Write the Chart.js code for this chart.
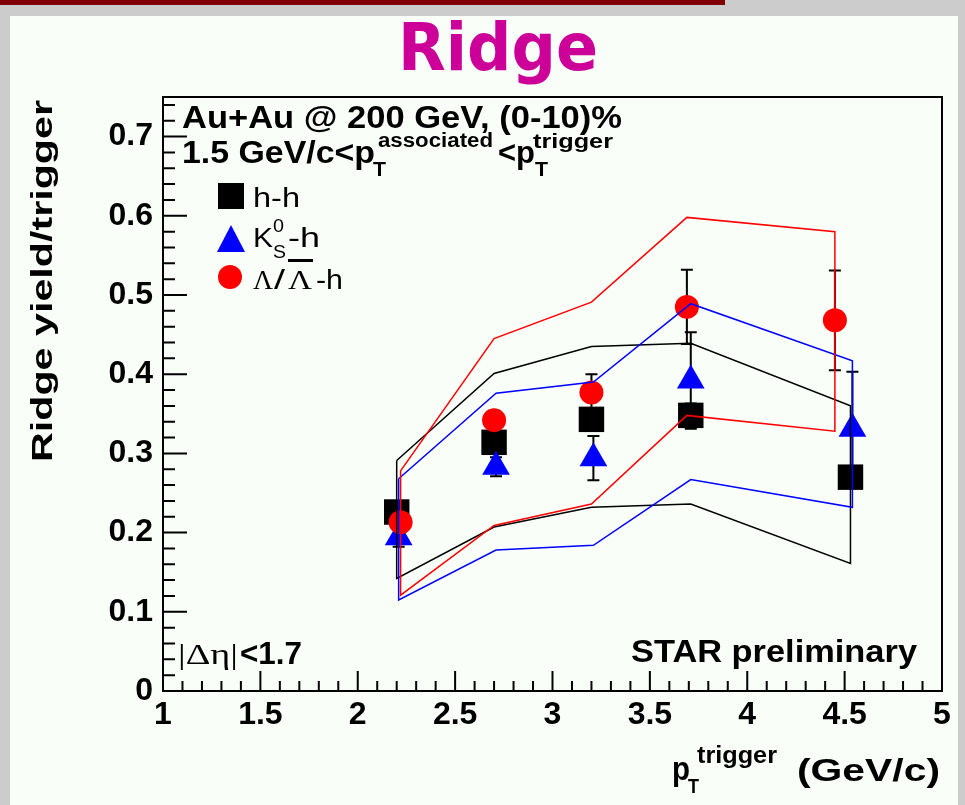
<!DOCTYPE html>
<html>
<head>
<meta charset="utf-8">
<script src="https://cdn.jsdelivr.net/npm/chart.js@4.4.1/dist/chart.umd.min.js"></script>
<style>
  html, body { margin: 0; padding: 0; background: #cccccc; }
  body { width: 965px; height: 805px; position: relative; overflow: hidden; }
  #topbar { position: absolute; left: 0; top: 0; width: 725px; height: 5px; background: #800000; }
  #panel { position: absolute; left: 10px; top: 16px; width: 948px; height: 789px; background: #f9fef9; }
  #chart { position: absolute; left: 0; top: 0; }
</style>
</head>
<body>
<div id="topbar"></div>
<div id="panel"></div>
<canvas id="chart" width="965" height="805"></canvas>
<script>
// axis ticks
const xTicks = [1, 1.5, 2, 2.5, 3, 3.5, 4, 4.5, 5];
const yTicks = [0, 0.1, 0.2, 0.3, 0.4, 0.5, 0.6, 0.7];

// h-h
const hhX = [2.2, 2.7, 3.2, 3.71, 4.53];
const hhY = [0.226, 0.314, 0.343, 0.348, 0.270];
const hhErr = [0.010, 0.010, 0.012, 0.015, 0.012];
const hhSysHi = [0.291, 0.401, 0.435, 0.439, 0.360];
const hhSysLo = [0.142, 0.207, 0.232, 0.236, 0.161];

// K0S-h
const k0X = [2.21, 2.71, 3.21, 3.71, 4.54];
const k0Y = [0.194, 0.283, 0.294, 0.392, 0.331];
const k0Err = [0.012, 0.012, 0.028, 0.061, 0.072];
const k0SysHi = [0.268, 0.376, 0.390, 0.489, 0.417];
const k0SysLo = [0.115, 0.178, 0.184, 0.267, 0.232];

// Lambda-h
const lamX = [2.22, 2.7, 3.2, 3.69, 4.45];
const lamY = [0.213, 0.342, 0.377, 0.485, 0.468];
const lamErr = [0.012, 0.012, 0.023, 0.047, 0.063];
const lamSysHi = [0.278, 0.445, 0.491, 0.598, 0.580];
const lamSysLo = [0.121, 0.209, 0.236, 0.348, 0.328];

const SANS = '"Liberation Sans", Arial, sans-serif';
const SERIF = '"Liberation Serif", "Times New Roman", serif';

function pts(xs, ys) {
  return xs.map((v, i) => ({ x: v, y: ys[i] }));
}

// closed outline of the systematic band
function band(xs, hi, lo) {
  const out = pts(xs, hi);
  for (let i = xs.length - 1; i >= 0; i--) out.push({ x: xs[i], y: lo[i] });
  out.push({ x: xs[0], y: hi[0] });
  return out;
}

function put(ctx, s, x, y, font, w) {
  ctx.save();
  ctx.font = font;
  const m = ctx.measureText(s).width;
  ctx.translate(x, y);
  if (w) ctx.scale(w / m, 1);
  ctx.fillText(s, 0, 0);
  ctx.restore();
}

// stat. error bars, drawn under markers and bands
const errorBars = {
  id: 'errorBars',
  beforeDatasetsDraw(chart) {
    const { ctx, scales: { x, y } } = chart;
    ctx.save();
    ctx.strokeStyle = '#000';
    ctx.lineWidth = 2;
    [[hhX, hhY, hhErr], [k0X, k0Y, k0Err], [lamX, lamY, lamErr]].forEach(([xs, ys, es]) => {
      xs.forEach((xv, i) => {
        const px = x.getPixelForValue(xv);
        const top = y.getPixelForValue(ys[i] + es[i]);
        const bot = y.getPixelForValue(ys[i] - es[i]);
        ctx.beginPath();
        ctx.moveTo(px, top); ctx.lineTo(px, bot);
        ctx.moveTo(px - 6, top); ctx.lineTo(px + 6, top);
        ctx.moveTo(px - 6, bot); ctx.lineTo(px + 6, bot);
        ctx.stroke();
      });
    });
    ctx.restore();
  }
};

// ROOT style frame with inside ticks
const frame = {
  id: 'frame',
  afterDraw(chart) {
    const { ctx, chartArea: a, scales: { x, y } } = chart;
    ctx.save();
    ctx.strokeStyle = '#000';
    ctx.lineWidth = 2;
    ctx.strokeRect(a.left, a.top, a.right - a.left, a.bottom - a.top);
    ctx.beginPath();
    for (let i = 0; i <= 40; i++) {
      const px = x.getPixelForValue(1 + i * 0.1);
      const len = i % 5 === 0 ? 20 : 10;
      ctx.moveTo(px, a.bottom); ctx.lineTo(px, a.bottom - len);
    }
    for (let i = 0; i <= 37; i++) {
      const py = y.getPixelForValue(i * 0.02);
      const len = i % 5 === 0 ? 24 : 12;
      ctx.moveTo(a.left, py); ctx.lineTo(a.left + len, py);
    }
    ctx.stroke();
    ctx.restore();
  }
};

// texts with sub/superscripts, legend
const labels = {
  id: 'labels',
  afterDraw(chart) {
    const ctx = chart.ctx;
    ctx.save();
    ctx.textAlign = 'left';
    ctx.textBaseline = 'alphabetic';

    ctx.fillStyle = '#cc0099';
    put(ctx, 'Ridge', 398, 70, 'bold 66px "DejaVu Sans"', 200);

    ctx.fillStyle = '#000';
    put(ctx, 'Au+Au @ 200 GeV, (0-10)%', 182, 128, 'bold 31px ' + SANS, 440);
    put(ctx, '1.5 GeV/c<p', 182, 163, 'bold 31px ' + SANS, 193);
    put(ctx, 'T', 373, 176, 'bold 20px ' + SANS, 13);
    put(ctx, 'associated', 378, 147, 'bold 20px ' + SANS, 115);
    put(ctx, '<p', 498, 163, 'bold 31px ' + SANS, 37);
    put(ctx, 'T', 535, 176, 'bold 20px ' + SANS, 13);
    put(ctx, 'trigger', 533, 148, 'bold 20px ' + SANS, 80);

    // legend
    ctx.fillStyle = '#000';
    ctx.fillRect(218, 183, 26, 26);
    put(ctx, 'h-h', 253, 207, '27px ' + SANS, 47);

    ctx.fillStyle = '#0000ff';
    ctx.beginPath();
    ctx.moveTo(231, 225); ctx.lineTo(245, 252); ctx.lineTo(217, 252); ctx.closePath();
    ctx.fill();
    ctx.fillStyle = '#000';
    put(ctx, 'K', 253, 247, '27px ' + SANS, 20);
    put(ctx, '0', 273, 232, '18px ' + SANS, 11);
    put(ctx, 'S', 273, 258, '18px ' + SANS, 13);
    put(ctx, '-h', 288, 247, '27px ' + SANS, 32);

    ctx.fillStyle = '#ff0000';
    ctx.beginPath();
    ctx.arc(230, 277, 12, 0, Math.PI * 2);
    ctx.fill();
    ctx.fillStyle = '#000';
    put(ctx, 'Λ', 253, 289, '28px ' + SERIF, 20);
    put(ctx, '/', 274, 289, '27px ' + SANS, 11);
    put(ctx, 'Λ', 288, 289, '28px ' + SERIF, 24);
    ctx.fillRect(288, 259, 25, 3);
    put(ctx, '-h', 316, 289, '27px ' + SANS, 27);

    put(ctx, '|Δη|', 178, 664, '30px ' + SERIF, 60);
    put(ctx, '<1.7', 240, 664, 'bold 31px ' + SANS, 62);
    put(ctx, 'STAR preliminary', 631, 662, 'bold 31px ' + SANS, 286);

    // x title
    put(ctx, 'p', 672, 780, 'bold 34px ' + SANS, 18);
    put(ctx, 'T', 688, 793, 'bold 20px ' + SANS, 11);
    put(ctx, 'trigger', 697, 763, 'bold 24px ' + SANS, 80);
    put(ctx, '(GeV/c)', 797, 781, 'bold 32px ' + SANS, 143);

    // y title
    ctx.save();
    ctx.translate(52, 462);
    ctx.rotate(-Math.PI / 2);
    put(ctx, 'Ridge yield/trigger', 0, 0, 'bold 30px ' + SANS, 362);
    ctx.restore();

    ctx.restore();
  }
};

const tickFont = { family: SANS, size: 32, weight: 'bold' };

new Chart(document.getElementById('chart').getContext('2d'), {
  type: 'scatter',
  data: {
    datasets: [
      { data: band(lamX, lamSysHi, lamSysLo), showLine: true, borderColor: '#ff0000', borderWidth: 1.5, pointRadius: 0, tension: 0, fill: false },
      { data: band(k0X, k0SysHi, k0SysLo), showLine: true, borderColor: '#0000ff', borderWidth: 1.5, pointRadius: 0, tension: 0, fill: false },
      { data: band(hhX, hhSysHi, hhSysLo), showLine: true, borderColor: '#000000', borderWidth: 1.5, pointRadius: 0, tension: 0, fill: false },
      { data: pts(lamX, lamY), pointStyle: 'circle', pointRadius: 12, backgroundColor: '#ff0000', borderColor: '#ff0000', borderWidth: 0 },
      { data: pts(k0X, k0Y), pointStyle: 'triangle', pointRadius: 16, backgroundColor: '#0000ff', borderColor: '#0000ff', borderWidth: 0 },
      { data: pts(hhX, hhY), pointStyle: 'rect', pointRadius: 18, backgroundColor: '#000000', borderColor: '#000000', borderWidth: 0 }
    ]
  },
  options: {
    responsive: false,
    animation: false,
    devicePixelRatio: 1,
    events: [],
    layout: { padding: { left: 0, top: 97, right: 23, bottom: 0 } },
    plugins: { legend: { display: false }, tooltip: { enabled: false } },
    scales: {
      x: {
        type: 'linear', min: 1, max: 5,
        grid: { display: false, drawTicks: false },
        border: { display: false },
        afterBuildTicks: s => { s.ticks = xTicks.map(v => ({ value: v })); },
        afterFit: s => { s.height = 114; },
        ticks: { font: tickFont, color: '#000', padding: 5, autoSkip: false, maxRotation: 0, callback: v => String(v) }
      },
      y: {
        type: 'linear', min: 0, max: 0.75,
        grid: { display: false, drawTicks: false },
        border: { display: false },
        afterBuildTicks: s => { s.ticks = yTicks.map(v => ({ value: v })); },
        afterFit: s => { s.width = 163; },
        ticks: { font: tickFont, color: '#000', padding: 10, autoSkip: false, callback: v => String(v) }
      }
    }
  },
  plugins: [errorBars, frame, labels]
});
</script>
</body>
</html>
